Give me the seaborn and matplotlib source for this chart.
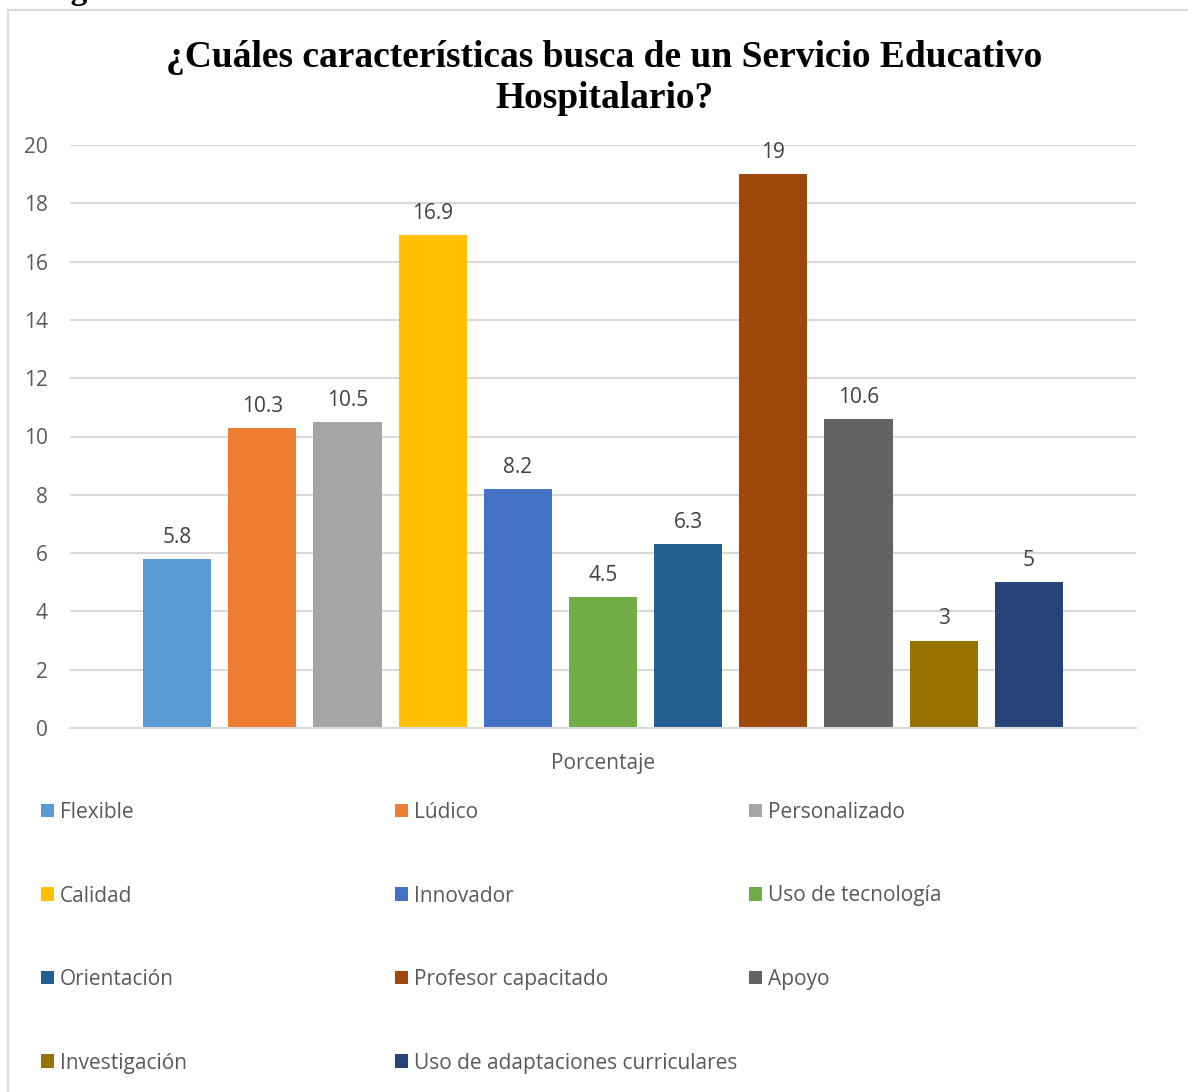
import matplotlib
matplotlib.use("Agg")
import matplotlib.pyplot as plt
import seaborn as sns
import pandas as pd
from matplotlib.patches import Rectangle

categories = ["Flexible", "Lúdico", "Personalizado", "Calidad", "Innovador",
              "Uso de tecnología", "Orientación", "Profesor capacitado", "Apoyo",
              "Investigación", "Uso de adaptaciones curriculares"]
values = [5.8, 10.3, 10.5, 16.9, 8.2, 4.5, 6.3, 19, 10.6, 3, 5]
colors = ["#5B9BD5", "#ED7D31", "#A5A5A5", "#FFC000", "#4472C4", "#70AD47",
          "#255E91", "#9E480E", "#636363", "#997300", "#264478"]
group_label = "Porcentaje"
title = "¿Cuáles características busca de un Servicio Educativo\nHospitalario?"
yticks = [0, 2, 4, 6, 8, 10, 12, 14, 16, 18, 20]

sns.set_theme(style="white")
plt.rcParams['font.family'] = ['Open Sans', 'DejaVu Sans']

W, H = 1188, 1092
fig = plt.figure(figsize=(W / 100, H / 100), dpi=100)
ax = fig.add_axes([70 / W, 1 - 728 / H, (1136 - 70) / W, (728 - 145) / H])

df = pd.DataFrame({"grupo": [group_label] * len(categories),
                   "cat": categories, "val": values})
sns.barplot(data=df, x="grupo", y="val", hue="cat", hue_order=categories,
            palette=colors, width=0.879, gap=0.2, saturation=1,
            errorbar=None, ax=ax, legend=True, linewidth=0)

tc = "#595959"
fs = 15
for cont in ax.containers:
    ax.bar_label(cont, fmt="%g", padding=8, color="#404040", fontsize=fs)

ax.set_ylim(0, 20)
ax.set_xlim(-0.5, 0.5)
ax.set_yticks(yticks)
ax.yaxis.grid(True, color="#D9D9D9", linewidth=1.5)
ax.set_axisbelow(True)
for s in ["left", "right", "top"]:
    ax.spines[s].set_visible(False)
ax.spines["bottom"].set_color("#D9D9D9")
ax.spines["bottom"].set_linewidth(1.5)
ax.tick_params(axis="y", length=0, pad=16, labelsize=fs, labelcolor=tc)
ax.tick_params(axis="x", length=0, pad=18, labelsize=fs, labelcolor=tc)
ax.set_xlabel("")
ax.set_ylabel("")

handles, labels = ax.get_legend_handles_labels()
ax.get_legend().remove()

# legend, row-major in 3 columns
col_x = [41, 395, 749]
for c in range(3):
    idx = list(range(c, len(handles), 3))
    lg = fig.legend([handles[i] for i in idx], [labels[i] for i in idx],
                    loc="upper left", bbox_to_anchor=(col_x[c] / W, 1 - 802 / H),
                    frameon=False, fontsize=fs, labelcolor=tc,
                    handlelength=0.62, handleheight=0.62, handletextpad=0.3,
                    labelspacing=3.0, borderpad=0, borderaxespad=0)

fig.text(604 / W, 1 - 40 / H, title, ha="center", va="top",
         fontsize=27, fontweight="bold", family=["Liberation Serif"],
         linespacing=1.22, color="black")

fig.text(41 / W, 1 + 1 / H, "Figura", ha="left", va="baseline",
         fontsize=24, fontweight="bold", family=["Liberation Serif"], color="black")

fig.patches.append(Rectangle((8 / W, -0.05), 1.1, 1 - 10 / H + 0.05,
                             transform=fig.transFigure, fill=False,
                             edgecolor="#D9D9D9", linewidth=1.5))

fig.savefig("out.png", dpi=100, facecolor="white")
